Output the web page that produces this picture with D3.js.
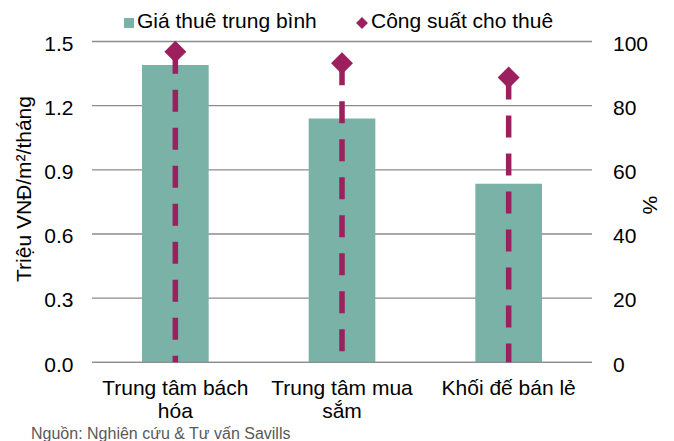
<!DOCTYPE html>
<html>
<head>
<meta charset="utf-8">
<script src="https://cdn.jsdelivr.net/npm/d3@7"></script>
<style>
  html, body { margin: 0; padding: 0; background: #fff; }
  svg { display: block; font-family: "Liberation Sans", Arial, sans-serif; }
</style>
</head>
<body>
<svg id="chart" width="674" height="441"></svg>
<script>
const categories = [["Trung tâm bách", "hóa"], ["Trung tâm mua", "sắm"], ["Khối đế bán lẻ"]];
const rentValues = [1.39, 1.14, 0.835];
const occupancyValues = [96.8, 93.2, 88.8];
const leftTicks = [0, 0.3, 0.6, 0.9, 1.2, 1.5];
const rightTicks = [0, 20, 40, 60, 80, 100];
const seriesNames = ["Giá thuê trung bình", "Công suất cho thuê"];
const leftTitle = "Triệu VNĐ/m²/tháng";
const rightTitle = "%";
const sourceText = "Nguồn: Nghiên cứu & Tư vấn Savills";

const barColor = "#7AB2A7";
const markColor = "#9C1F5E";
const gridColor = "#8c8c8c";

const svg = d3.select("#chart");
const plot = { left: 92, right: 592, top: 41.5, bottom: 362.3 };

const x = d3.scaleBand().domain(categories.map((d, i) => i))
  .range([plot.left, plot.right]).paddingInner(0.6).paddingOuter(0.3);
const yL = d3.scaleLinear().domain([0, 1.5]).range([plot.bottom, plot.top]);
const yR = d3.scaleLinear().domain([0, 100]).range([plot.bottom, plot.top]);

// gridlines
svg.append("g").selectAll("line").data(leftTicks).join("line")
  .attr("x1", plot.left).attr("x2", plot.right)
  .attr("y1", d => yL(d)).attr("y2", d => yL(d))
  .attr("stroke", gridColor).attr("stroke-width", 1.3);

// left axis
const axL = svg.append("g").attr("transform", `translate(${plot.left},0)`)
  .call(d3.axisLeft(yL).tickValues(leftTicks).tickFormat(d3.format(".1f")).tickSize(0).tickPadding(18.5));
axL.select(".domain").remove();
axL.selectAll("text").attr("font-size", 21).attr("fill", "#000").attr("dy", "0.42em")
  .attr("font-family", "Liberation Sans, Arial, sans-serif");

// right axis
const axR = svg.append("g").attr("transform", `translate(${plot.right},0)`)
  .call(d3.axisRight(yR).tickValues(rightTicks).tickFormat(d3.format("d")).tickSize(0).tickPadding(21));
axR.select(".domain").remove();
axR.selectAll("text").attr("font-size", 21).attr("fill", "#000").attr("dy", "0.42em")
  .attr("font-family", "Liberation Sans, Arial, sans-serif");

// bars
svg.append("g").selectAll("rect").data(rentValues).join("rect")
  .attr("x", (d, i) => x(i)).attr("width", x.bandwidth())
  .attr("y", d => yL(d)).attr("height", d => yL(0) - yL(d))
  .attr("fill", barColor);

// baseline redraw
svg.append("line").attr("x1", plot.left).attr("x2", plot.right)
  .attr("y1", yL(0)).attr("y2", yL(0)).attr("stroke", gridColor).attr("stroke-width", 1.3);

// dashed drop lines
svg.append("g").selectAll("line").data(occupancyValues).join("line")
  .attr("x1", (d, i) => x(i) + x.bandwidth() / 2).attr("x2", (d, i) => x(i) + x.bandwidth() / 2)
  .attr("y1", d => yR(d)).attr("y2", yR(0))
  .attr("stroke", markColor).attr("stroke-width", 5.5).attr("stroke-dasharray", "22,16");

// diamonds
const diamond = d3.symbol().type(d3.symbolSquare).size(240);
svg.append("g").selectAll("path").data(occupancyValues).join("path")
  .attr("d", diamond)
  .attr("transform", (d, i) => `translate(${x(i) + x.bandwidth() / 2},${yR(d)}) rotate(45)`)
  .attr("fill", markColor);

// category labels
const catG = svg.append("g");
categories.forEach((lines, i) => {
  const t = catG.append("text").attr("text-anchor", "middle")
    .attr("font-size", 21).attr("fill", "#000");
  lines.forEach((ln, j) => {
    t.append("tspan").attr("x", x(i) + x.bandwidth() / 2).attr("y", 395 + j * 23).text(ln);
  });
});

// axis titles
svg.append("text").attr("transform", "translate(31,189) rotate(-90)")
  .attr("text-anchor", "middle").attr("font-size", 21).attr("fill", "#000")
  .text(leftTitle);
svg.append("text").attr("transform", "translate(643,205) rotate(90)")
  .attr("text-anchor", "middle").attr("font-size", 21).attr("fill", "#000")
  .text(rightTitle);

// legend
const leg = svg.append("g");
leg.append("rect").attr("x", 124).attr("y", 18).attr("width", 10).attr("height", 10).attr("fill", barColor);
leg.append("text").attr("x", 137).attr("y", 28).attr("font-size", 21).attr("fill", "#000").text(seriesNames[0]);
leg.append("path").attr("d", d3.symbol().type(d3.symbolSquare).size(70))
  .attr("transform", "translate(362,23) rotate(45)").attr("fill", markColor);
leg.append("text").attr("x", 371).attr("y", 28).attr("font-size", 21).attr("fill", "#000").text(seriesNames[1]);

// source
svg.append("text").attr("x", 31).attr("y", 439).attr("font-size", 16).attr("fill", "#595959").text(sourceText);
</script>
</body>
</html>
